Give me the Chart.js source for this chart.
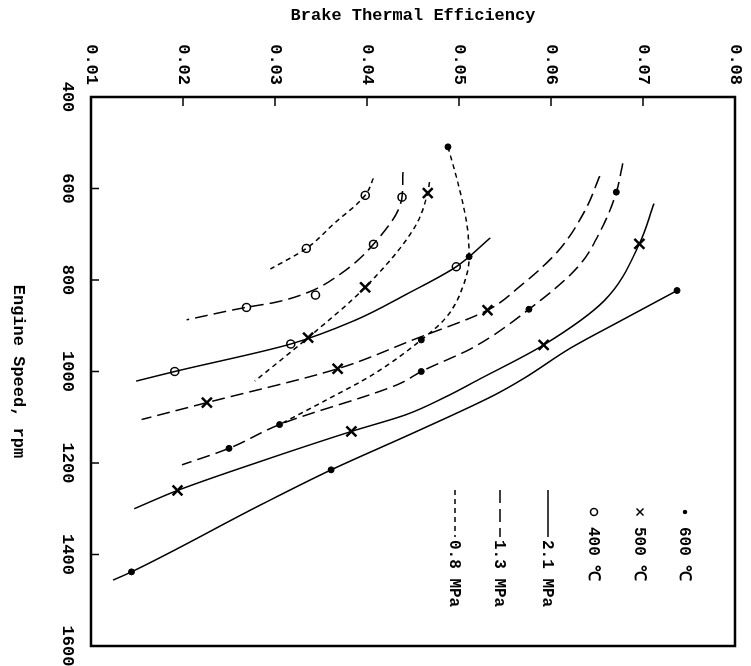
<!DOCTYPE html>
<html>
<head>
<meta charset="utf-8">
<script src="https://cdn.jsdelivr.net/npm/chart.js@4.4.0/dist/chart.umd.min.js"></script>
<style>
  html, body { margin: 0; padding: 0; background: #fff; }
  body { width: 751px; height: 666px; overflow: hidden; position: relative; }
  /* chart is drawn upright, then turned 90deg clockwise like the scan */
  #wrap { position: absolute; left: 0; top: 0; width: 666px; height: 751px;
          transform-origin: 0 0; transform: translate(751px, 0) rotate(90deg); }
</style>
</head>
<body>
<div id="wrap"><canvas id="chart" width="666" height="751"></canvas></div>
<script>
// Axis ticks
const rpmTicks = [400, 600, 800, 1000, 1200, 1400, 1600];
const effTicks = [0.01, 0.02, 0.03, 0.04, 0.05, 0.06, 0.07, 0.08];

// Legend entries
const temps = ['600 \u2103', '500 \u2103', '400 \u2103'];
const pressures = ['2.1 MPa', '1.3 MPa', '0.8 MPa'];

// Fitted curves [rpm, efficiency]
const curve600_21 = [[823,0.0737],[889,0.0676],[948,0.0622],[1017,0.0569],[1051,0.0539],[1131,0.0454],[1215,0.0361],[1291,0.0285],[1438,0.0144],[1456,0.0124]];
const curve600_13 = [[545,0.0678],[608,0.0671],[692,0.0654],[772,0.0629],[864,0.0576],[948,0.0515],[1000,0.0459],[1028,0.0434],[1116,0.0305],[1168,0.0250],[1204,0.0199]];
const curve600_08 = [[509,0.0488],[597,0.0500],[684,0.0509],[749,0.0511],[816,0.0504],[882,0.0486],[931,0.0459],[1006,0.0407],[1061,0.0357],[1116,0.0305]];
const curve500_21 = [[633,0.0712],[721,0.0696],[845,0.0658],[942,0.0592],[1017,0.0522],[1056,0.0485],[1094,0.0443],[1131,0.0383],[1196,0.0285],[1260,0.0194],[1300,0.0147]];
const curve500_13 = [[573,0.0653],[648,0.0637],[736,0.0608],[816,0.0565],[866,0.0531],[930,0.0451],[994,0.0368],[1068,0.0226],[1105,0.0155]];
const curve500_08 = [[586,0.0468],[610,0.0466],[684,0.0452],[816,0.0398],[926,0.0336],[1021,0.0278]];
const curve400_21 = [[708,0.0534],[771,0.0497],[831,0.0443],[889,0.0386],[940,0.0317],[1000,0.0191],[1021,0.0149]];
const curve400_13 = [[564,0.0439],[619,0.0438],[722,0.0407],[787,0.0371],[827,0.0336],[849,0.0300],[860,0.0268],[887,0.0204]];
const curve400_08 = [[578,0.0407],[615,0.0398],[677,0.0364],[731,0.0334],[776,0.0295]];

// Measured points [rpm, efficiency]
const pts600_21 = [[823,0.0737],[1215,0.0361],[1438,0.0144]];
const pts600_13 = [[608,0.0671],[864,0.0576],[1000,0.0459],[1116,0.0305],[1168,0.0250]];
const pts600_08 = [[509,0.0488],[749,0.0511],[931,0.0459]];
const pts500_21 = [[721,0.0696],[942,0.0592],[1131,0.0383],[1260,0.0194]];
const pts500_13 = [[866,0.0531],[994,0.0368],[1068,0.0226]];
const pts500_08 = [[610,0.0466],[816,0.0398],[926,0.0336]];
const pts400_21 = [[771,0.0497],[940,0.0317],[1000,0.0191]];
const pts400_13 = [[619,0.0438],[722,0.0407],[833,0.0344],[860,0.0269]];
const pts400_08 = [[615,0.0398],[731,0.0334]];

const FONT = '"Liberation Mono", "DejaVu Sans Mono", monospace';
const dashFor = { '2.1': [], '1.3': [13, 6], '0.8': [5, 4] };

// marker look per temperature
const markFor = {
    '600': { pointStyle: 'circle', pointRadius: 3, pointBackgroundColor: '#000', pointBorderWidth: 1 },
    '500': { pointStyle: 'crossRot', pointRadius: 7, pointBackgroundColor: '#000', pointBorderWidth: 2.5 },
    '400': { pointStyle: 'circle', pointRadius: 4, pointBackgroundColor: '#fff', pointBorderWidth: 1.5 }
};

const toXY = arr => arr.map(p => ({ x: p[0], y: p[1] }));

function lineSet(data, p) {
    return {
        data: toXY(data), showLine: true, pointRadius: 0,
        borderColor: '#000', borderWidth: 1.5, borderDash: dashFor[p],
        cubicInterpolationMode: 'monotone'
    };
}

function markSet(data, t) {
    return Object.assign({ data: toXY(data), showLine: false, borderColor: '#000', pointBorderColor: '#000' }, markFor[t]);
}

const datasets = [
    lineSet(curve600_21, '2.1'), lineSet(curve600_13, '1.3'), lineSet(curve600_08, '0.8'),
    lineSet(curve500_21, '2.1'), lineSet(curve500_13, '1.3'), lineSet(curve500_08, '0.8'),
    lineSet(curve400_21, '2.1'), lineSet(curve400_13, '1.3'), lineSet(curve400_08, '0.8'),
    markSet(pts600_21, '600'), markSet(pts600_13, '600'), markSet(pts600_08, '600'),
    markSet(pts500_21, '500'), markSet(pts500_13, '500'), markSet(pts500_08, '500'),
    markSet(pts400_21, '400'), markSet(pts400_13, '400'), markSet(pts400_08, '400')
];

// Frame on all four sides and inward tick marks
const frameTicks = {
    id: 'frameTicks',
    afterDatasetsDraw(chart) {
        const { ctx, chartArea: a, scales: { x, y } } = chart;
        ctx.save();
        ctx.strokeStyle = '#000';
        ctx.lineWidth = 1.5;
        ctx.beginPath();
        rpmTicks.slice(1, -1).forEach(v => {
            const px = x.getPixelForValue(v);
            ctx.moveTo(px, a.bottom); ctx.lineTo(px, a.bottom - 8);
        });
        effTicks.slice(1, -1).forEach(v => {
            const py = y.getPixelForValue(v);
            ctx.moveTo(a.left, py); ctx.lineTo(a.left + 9, py);
        });
        ctx.stroke();
        ctx.lineWidth = 2.5;
        ctx.strokeRect(a.left, a.top, a.right - a.left, a.bottom - a.top);
        ctx.restore();
    }
};

// Legend inside the plot, upper right (before turning)
const innerLegend = {
    id: 'innerLegend',
    afterDraw(chart) {
        const { ctx, chartArea: a } = chart;
        const rowY = [50, 95, 141, 187, 235, 280];
        ctx.save();
        ctx.fillStyle = '#000';
        ctx.strokeStyle = '#000';
        ctx.font = 'bold 16px ' + FONT;
        ctx.textBaseline = 'middle';
        temps.forEach((t, i) => {
            const mx = a.left + 415, my = a.top + rowY[i];
            ctx.lineWidth = 1.5;
            ctx.beginPath();
            if (i === 0) {
                ctx.arc(mx, my, 2.2, 0, Math.PI * 2); ctx.fill();
            } else if (i === 1) {
                ctx.moveTo(mx - 3.5, my - 3.5); ctx.lineTo(mx + 3.5, my + 3.5);
                ctx.moveTo(mx - 3.5, my + 3.5); ctx.lineTo(mx + 3.5, my - 3.5); ctx.stroke();
            } else {
                ctx.arc(mx, my, 3.5, 0, Math.PI * 2); ctx.stroke();
            }
            ctx.fillText(t, a.left + 430, my + 1);
        });
        pressures.forEach((p, i) => {
            const my = a.top + rowY[i + 3];
            ctx.lineWidth = 1.5;
            ctx.setLineDash(dashFor[p.split(' ')[0]]);
            ctx.beginPath();
            ctx.moveTo(a.left + 393, my); ctx.lineTo(a.left + 440, my);
            ctx.stroke();
            ctx.setLineDash([]);
            ctx.fillText(p, a.left + 443, my + 1);
        });
        ctx.restore();
    }
};

new Chart(document.getElementById('chart').getContext('2d'), {
    type: 'scatter',
    data: { datasets: datasets },
    options: {
        responsive: false,
        animation: false,
        devicePixelRatio: 1,
        layout: { padding: { top: 16, right: 20, left: 0, bottom: 0 } },
        plugins: { legend: { display: false }, tooltip: { enabled: false } },
        scales: {
            x: {
                type: 'linear', min: 400, max: 1600,
                afterBuildTicks: s => { s.ticks = rpmTicks.map(v => ({ value: v })); },
                afterFit: s => { s.height = 91; s.paddingLeft = 0; s.paddingRight = 0; },
                grid: { display: false },
                border: { display: false },
                ticks: { color: '#000', padding: 6, maxRotation: 0, font: { family: FONT, size: 17, weight: 'bold' },
                         callback: v => String(v) },
                title: { display: true, text: 'Engine Speed, rpm', color: '#000',
                         padding: { top: 0, bottom: 8 }, font: { family: FONT, size: 17, weight: 'bold' } }
            },
            y: {
                type: 'linear', min: 0.01, max: 0.08,
                afterBuildTicks: s => { s.ticks = effTicks.map(v => ({ value: v })); },
                afterFit: s => { s.width = 97; s.paddingTop = 0; s.paddingBottom = 0; },
                grid: { display: false },
                border: { display: false },
                ticks: { color: '#000', padding: 4, font: { family: FONT, size: 17, weight: 'bold' },
                         callback: v => v.toFixed(2) },
                title: { display: true, text: 'Brake Thermal Efficiency', color: '#000',
                         padding: { top: 6, bottom: 0 }, font: { family: FONT, size: 17, weight: 'bold' } }
            }
        }
    },
    plugins: [frameTicks, innerLegend]
});
</script>
</body>
</html>
